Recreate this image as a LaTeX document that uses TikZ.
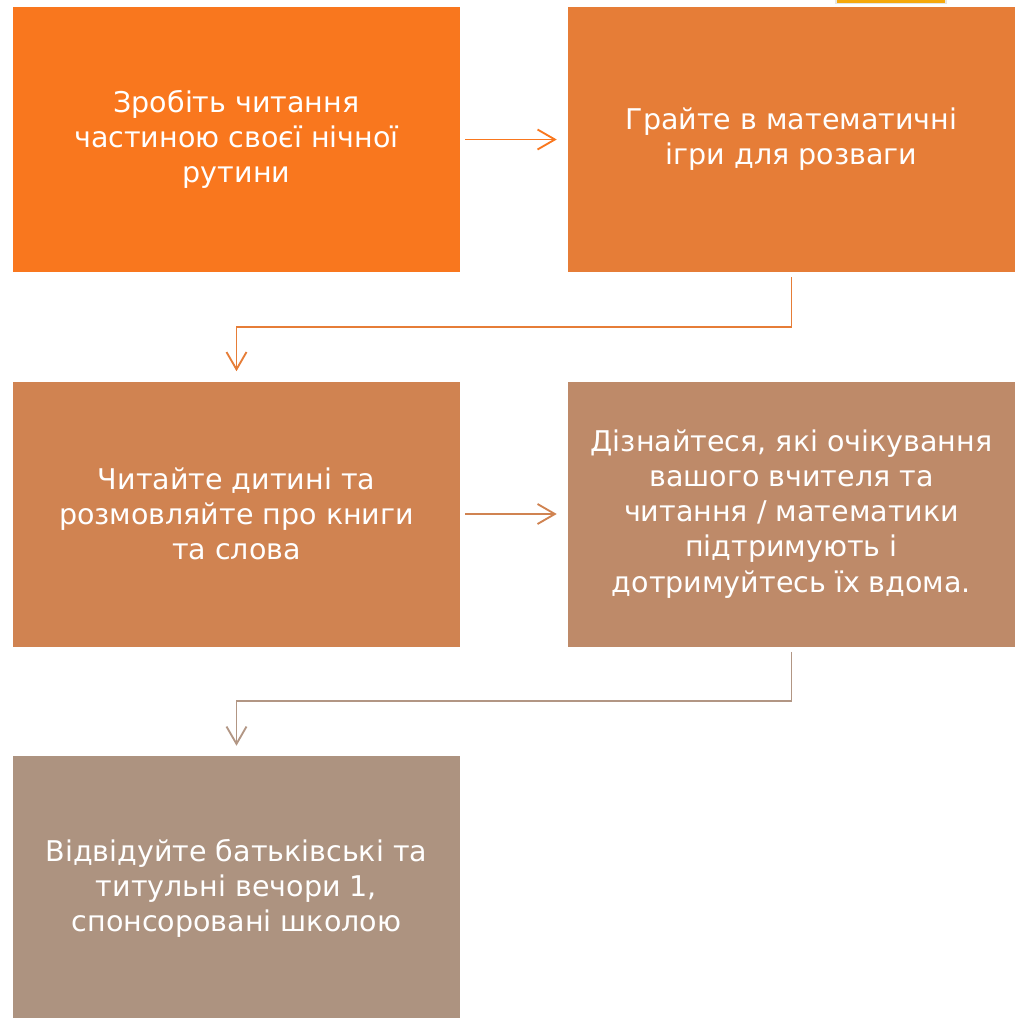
\documentclass[tikz,border=0pt]{standalone}
\usepackage{fontspec}
\setmainfont{DejaVu Sans}
\usetikzlibrary{arrows.meta}
\definecolor{tone1}{HTML}{F9771E}
\definecolor{tone2}{HTML}{E67D37}
\definecolor{tone3}{HTML}{D08351}
\definecolor{tone4}{HTML}{BE8A69}
\definecolor{tone5}{HTML}{AD9380}
\definecolor{tone45}{HTML}{B29684}
\definecolor{badge}{HTML}{F5A80C}
\tikzset{
	stepbox/.style={fill=#1,draw=none,minimum width=335.25pt,minimum height=198.75pt,
		inner sep=0pt,text=white,align=center,
		font=\fontsize{21.4}{26.3}\selectfont},
	link/.style={draw=#1,line width=1.4pt,
		-{Straight Barb[length=13pt,width=15pt,line width=1.4pt]}}
}
\begin{document}
\begin{tikzpicture}[x=0.75pt,y=-0.75pt]
	\useasboundingbox (0,0) rectangle (1017,1018);
	\fill[gray!20] (835,0) rectangle (947,4);
	\fill[badge] (837,0) rectangle (945,2.5);
	\node[stepbox=tone1] (b1) at (236.5,139.5) {Зробіть читання\\частиною своєї нічної\\рутини};
	\node[stepbox=tone2] (b2) at (791.5,139.5) {Грайте в математичні\\ігри для розваги};
	\node[stepbox=tone3] (b3) at (236.5,514) {Читайте дитині та\\розмовляйте про книги\\та слова};
	\node[stepbox=tone4] (b4) at (791.5,514) {Дізнайтеся, які очікування\\вашого вчителя та\\читання / математики\\підтримують і\\дотримуйтесь їх вдома.};
	\node[stepbox=tone5] (b5) at (236.5,888.5) {Відвідуйте батьківські та\\титульні вечори 1,\\спонсоровані школою};
	\draw[link=tone1,shorten <=3.75pt,shorten >=8.25pt] (b1.east) -- (b2.west);
	\draw[link=tone3,shorten <=3.75pt,shorten >=8.25pt] (b3.east) -- (b4.west);
	\draw[link=tone2,shorten >=7.5pt] (b2.south) ++(0,5) |- ++(0,50) -| (b3.north);
	\draw[link=tone45,shorten >=7.5pt] (b4.south) ++(0,5) |- ++(0,49) -| (b5.north);
\end{tikzpicture}
\end{document}
